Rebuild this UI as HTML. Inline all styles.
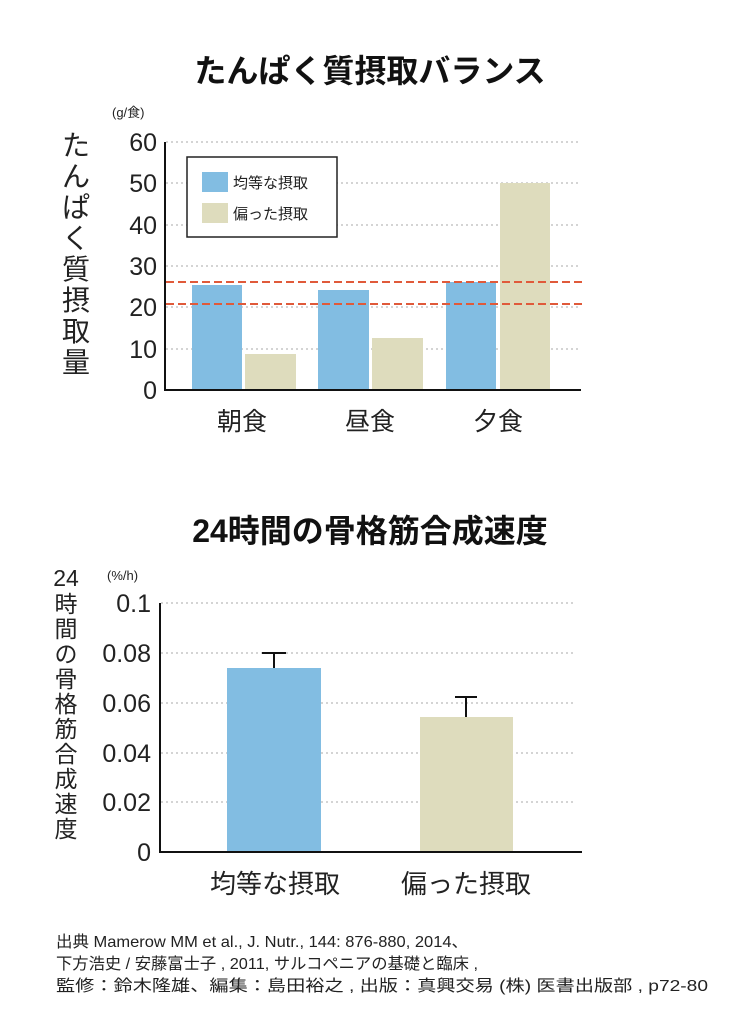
<!DOCTYPE html><html><head><meta charset="utf-8"><style>
body{margin:0;background:#fff;width:741px;height:1024px;overflow:hidden}
svg{font-family:"Liberation Sans","Noto Sans CJK JP",sans-serif}
</style></head><body>
<svg width="741" height="1024" viewBox="0 0 741 1024">
<text x="370" y="82" font-size="32" font-weight="bold" text-anchor="middle" fill="#111">たんぱく質摂取バランス</text>
<text x="112" y="117" font-size="13" fill="#222">(g/食)</text>
<g stroke="#aaa" stroke-dasharray="2,3" stroke-width="1">
<line x1="166" y1="142" x2="580" y2="142"/><line x1="166" y1="183" x2="580" y2="183"/><line x1="166" y1="225" x2="580" y2="225"/><line x1="166" y1="266" x2="580" y2="266"/><line x1="166" y1="307" x2="580" y2="307"/><line x1="166" y1="349" x2="580" y2="349"/>
</g>
<g font-size="25" text-anchor="end" fill="#222">
<text x="157" y="151">60</text><text x="157" y="192">50</text><text x="157" y="234">40</text><text x="157" y="275">30</text><text x="157" y="316">20</text><text x="157" y="358">10</text><text x="157" y="399">0</text>
</g>
<g font-size="28" fill="#222" text-anchor="middle">
<text x="76" y="155">た</text><text x="76" y="186">ん</text><text x="76" y="217">ぱ</text><text x="76" y="248">く</text><text x="76" y="279">質</text><text x="76" y="310">摂</text><text x="76" y="341">取</text><text x="76" y="372">量</text>
</g>
<g fill="#82bde2"><rect x="192" y="285" width="50" height="105"/><rect x="318" y="290" width="51" height="100"/><rect x="446" y="282" width="50" height="108"/></g>
<g fill="#dedcbd"><rect x="245" y="354" width="51" height="36"/><rect x="372" y="338" width="51" height="52"/><rect x="500" y="183" width="50" height="207"/></g>
<g stroke="#e05a3a" stroke-width="2" stroke-dasharray="8,4"><line x1="166" y1="282" x2="582" y2="282"/><line x1="166" y1="304" x2="582" y2="304"/></g>
<path d="M165 142V390H581" fill="none" stroke="#111" stroke-width="2"/>
<rect x="187" y="157" width="150" height="80" fill="#fff" stroke="#222" stroke-width="1.5"/>
<rect x="202" y="172" width="26" height="20" fill="#82bde2"/><rect x="202" y="203" width="26" height="20" fill="#dedcbd"/>
<text x="233" y="188" font-size="15" fill="#222">均等な摂取</text><text x="233" y="219" font-size="15" fill="#222">偏った摂取</text>
<g font-size="25" fill="#222" text-anchor="middle"><text x="242" y="430">朝食</text><text x="370" y="430">昼食</text><text x="498" y="430">夕食</text></g>

<text x="370" y="542" font-size="32" font-weight="bold" text-anchor="middle" fill="#111">24時間の骨格筋合成速度</text>
<text x="107" y="580" font-size="13" fill="#222">(%/h)</text>
<g stroke="#aaa" stroke-dasharray="2,3" stroke-width="1">
<line x1="161" y1="603" x2="576" y2="603"/><line x1="161" y1="653" x2="576" y2="653"/><line x1="161" y1="703" x2="576" y2="703"/><line x1="161" y1="753" x2="576" y2="753"/><line x1="161" y1="802" x2="576" y2="802"/>
</g>
<g font-size="25" text-anchor="end" fill="#222">
<text x="151" y="612">0.1</text><text x="151" y="662">0.08</text><text x="151" y="712">0.06</text><text x="151" y="762">0.04</text><text x="151" y="811">0.02</text><text x="151" y="861">0</text>
</g>
<g font-size="23" fill="#222" text-anchor="middle">
<text x="66" y="586">24</text><text x="66" y="612">時</text><text x="66" y="637">間</text><text x="66" y="662">の</text><text x="66" y="687">骨</text><text x="66" y="712">格</text><text x="66" y="737">筋</text><text x="66" y="762">合</text><text x="66" y="787">成</text><text x="66" y="812">速</text><text x="66" y="837">度</text>
</g>
<rect x="227" y="668" width="94" height="184" fill="#82bde2"/>
<rect x="420" y="717" width="93" height="135" fill="#dedcbd"/>
<g stroke="#111" stroke-width="2" fill="none"><path d="M274 668V653M262 653H286"/><path d="M466 717V697M455 697H477"/></g>
<path d="M160 603V852H582" fill="none" stroke="#111" stroke-width="2"/>
<g font-size="26" fill="#222" text-anchor="middle"><text x="275" y="893">均等な摂取</text><text x="466" y="893">偏った摂取</text></g>
<g font-size="16" fill="#222">
<text x="56" y="947" textLength="412" lengthAdjust="spacingAndGlyphs">出典 Mamerow MM et al., J. Nutr., 144: 876-880, 2014、</text>
<text x="56" y="969" textLength="422" lengthAdjust="spacingAndGlyphs">下方浩史 / 安藤富士子 , 2011, サルコペニアの基礎と臨床 ,</text>
<text x="56" y="991" textLength="652" lengthAdjust="spacingAndGlyphs">監修：鈴木隆雄、編集：島田裕之 , 出版：真興交易 (株) 医書出版部 , p72-80</text>
</g>
</svg></body></html>
